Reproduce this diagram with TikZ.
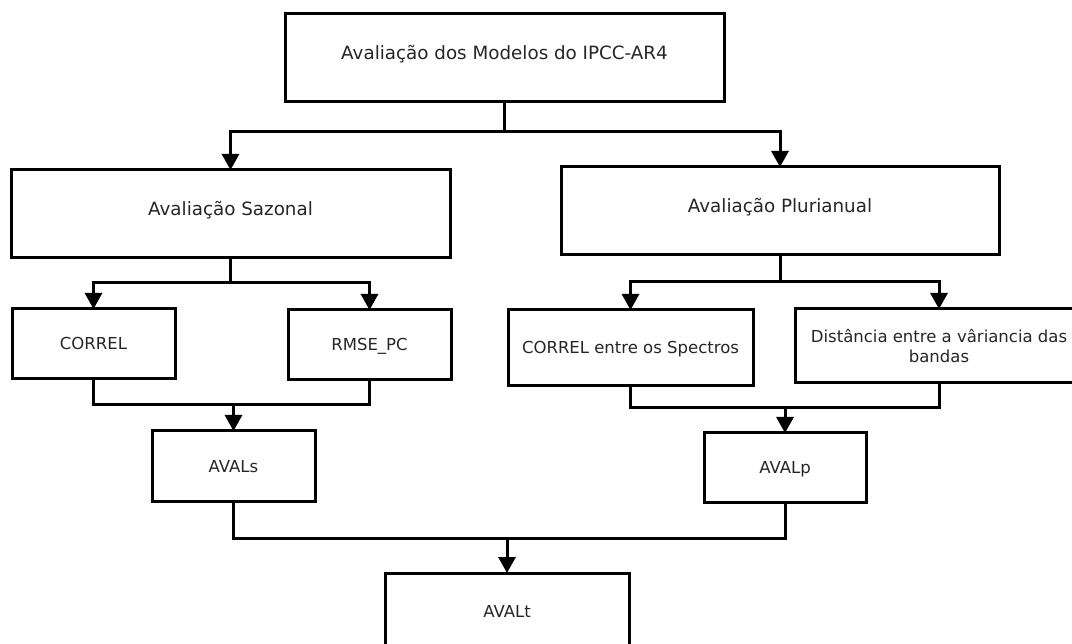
\documentclass[tikz,border=0pt]{standalone}
\usepackage{fontspec}
\setmainfont{DejaVu Sans}
\usetikzlibrary{arrows.meta,calc}
\begin{document}
\begin{tikzpicture}[x=1pt,y=-1pt,
  box/.style={draw=black, line width=3pt, outer sep=0pt, inner sep=0pt, text=black!85, align=center},
  big/.style={font=\fontsize{18.3}{22}\selectfont, text height=8pt, text depth=5pt},
  mid/.style={font=\fontsize{16.5}{20}\selectfont, text height=12pt, text depth=0pt},
  two/.style={font=\fontsize{16.5}{20}\selectfont},
  conn/.style={line width=3pt, line join=miter},
  arr/.style={conn, -{Triangle[length=16pt,width=17pt]}}]
\useasboundingbox (0,0) rectangle (1072,644);
\clip (0,0) rectangle (1072,644);
\fill[white] (0,0) rectangle (1072,644);

\node[box,big,minimum width=439pt,minimum height=88pt] (top) at (504.5,58) {Avaliação dos Modelos do IPCC-AR4};
\node[box,big,minimum width=439pt,minimum height=88pt] (saz) at (230.5,214) {Avaliação Sazonal};
\node[box,big,minimum width=438pt,minimum height=88pt] (plu) at (780,211) {Avaliação Plurianual};
\node[box,mid,minimum width=163pt,minimum height=70pt] (cor) at (93.5,344) {CORREL};
\node[box,mid,minimum width=163pt,minimum height=70pt] (rms) at (369.5,345) {RMSE\_PC};
\node[box,mid,minimum width=245pt,minimum height=76pt] (cos) at (630.5,348) {CORREL entre os Spectros};
\node[box,two,minimum width=288pt,minimum height=74pt] (dis) at (939,346) {Distância entre a vâriancia das\\bandas};
\node[box,mid,minimum width=163pt,minimum height=70pt] (avs) at (233.5,466) {AVALs};
\node[box,mid,minimum width=162pt,minimum height=69pt] (avp) at (785,467.5) {AVALp};
\node[box,mid,minimum width=244pt,minimum height=76pt] (avt) at (507,611) {AVALt};

\coordinate (j1) at ($(top.south)+(0,30)$);
\draw[conn] (top.south) -- (j1);
\draw[arr] (j1) -| (saz.north);
\draw[arr] (j1) -| (plu.north);

\coordinate (j2) at ($(saz.south)+(0,25)$);
\draw[conn] (saz.south) -- (j2);
\draw[arr] (j2) -| (cor.north);
\draw[arr] (j2) -| (rms.north);

\coordinate (j3) at ($(plu.south)+(0,27)$);
\draw[conn] (plu.south) -- (j3);
\draw[arr] (j3) -| (cos.north);
\draw[arr] (j3) -| (dis.north);

\coordinate (m1) at ($(cor.south)+(0,26)$);
\draw[conn] (cor.south) -- (m1) -| (rms.south);
\draw[arr] (avs.north |- m1) -- (avs.north);

\coordinate (m2) at ($(cos.south)+(0,22)$);
\draw[conn] (cos.south) -- (m2) -| (dis.south);
\draw[arr] (avp.north |- m2) -- (avp.north);

\coordinate (m3) at ($(avs.south)+(0,37)$);
\draw[conn] (avs.south) -- (m3) -| (avp.south);
\draw[arr] (avt.north |- m3) -- (avt.north);
\end{tikzpicture}
\end{document}
